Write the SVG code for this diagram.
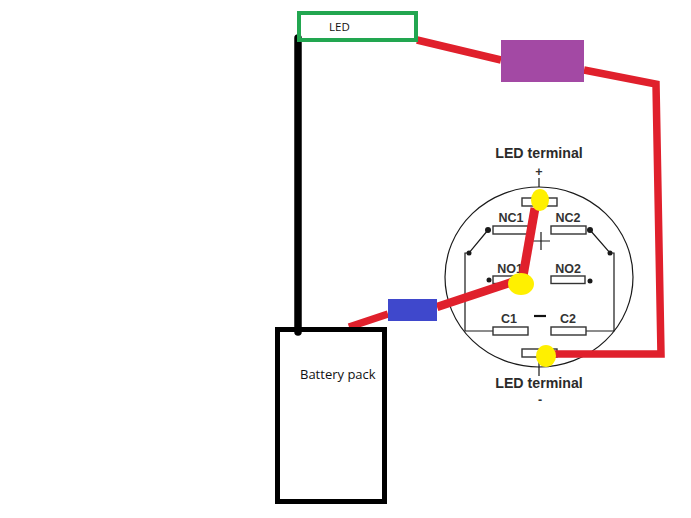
<svg xmlns="http://www.w3.org/2000/svg" width="691" height="518" viewBox="0 0 691 518">
<style>
.t{font-family:"Open Sans","Noto Sans",sans-serif;font-size:11.5px;fill:#111}
.s{font-family:"Liberation Sans",Arial,sans-serif;font-size:14.2px;font-weight:bold;fill:#2b2b2b;text-anchor:middle}
.l{font-family:"Liberation Sans",Arial,sans-serif;font-size:12.5px;font-weight:bold;fill:#333;text-anchor:middle}
.thin{fill:none;stroke:#1a1a1a;stroke-width:1.2}
.box{fill:#fff;stroke:#333;stroke-width:1.4}
.red{fill:none;stroke:#e0202c;stroke-linecap:butt;stroke-linejoin:miter}
.dot{fill:#1a1a1a}
.y{fill:#fff000}
</style>
<rect width="691" height="518" fill="#fff"/>
<g id="switch-diagram">
<ellipse class="thin" cx="539" cy="277" rx="94" ry="90"/>
<path class="thin" d="M539 178V187M539 357V376"/>
<path class="thin" d="M488 230L469 253H465V331H493M590 230L610 253H614V331H586"/>
<circle class="dot" cx="488" cy="230" r="3"/><circle class="dot" cx="590" cy="230" r="3"/>
<circle class="dot" cx="469" cy="253" r="2.5"/><circle class="dot" cx="610" cy="253" r="2.5"/>
<circle class="dot" cx="489" cy="280" r="2.5"/><circle class="dot" cx="590" cy="281" r="2.5"/>
<rect class="box" x="522" y="198" width="35" height="8"/>
<rect class="box" x="493" y="226" width="35" height="8"/>
<rect class="box" x="551" y="226" width="35" height="8"/>
<rect class="box" x="493" y="276" width="35" height="7.500"/>
<rect class="box" x="551" y="276" width="34" height="7.500"/>
<rect class="box" x="493" y="327" width="35" height="8"/>
<rect class="box" x="551" y="327" width="35" height="8"/>
<rect class="box" x="522" y="349" width="35" height="8"/>
<path class="thin" d="M541 232V250M533 241H550" stroke-width="1.500"/>
<path d="M534 316H546" stroke="#111" stroke-width="2.200"/>
<text class="s" x="539" y="158">LED terminal</text>
<text class="l" x="539" y="176">+</text>
<text class="l" x="511" y="222">NC1</text>
<text class="l" x="568" y="222">NC2</text>
<text class="l" x="510" y="273">NO1</text>
<text class="l" x="568" y="273">NO2</text>
<text class="l" x="509" y="323">C1</text>
<text class="l" x="568" y="323">C2</text>
<text class="s" x="539" y="388">LED terminal</text>
<text class="l" x="540" y="404">-</text>
</g>
<g id="connectors">
<path d="M298 38V332" fill="none" stroke="#000" stroke-width="7.500" stroke-linecap="round"/>
<path class="red" stroke-width="7.500" d="M417 40L501 60"/>
<path class="red" stroke-width="7.500" d="M584 70L656 84L661 354H552"/>
<path class="red" stroke-width="9" d="M535 208L522 282"/>
<path class="red" stroke-width="8.500" d="M437 307L515 281"/>
<path class="red" stroke-width="7.500" stroke-linecap="round" d="M349 327L388 314"/>
</g>
<g id="led"><rect x="299" y="13" width="117" height="27" fill="none" stroke="#22a650" stroke-width="4"/><text class="t" x="329" y="31">LED</text></g>
<g id="resistor"><rect x="501" y="40" width="83" height="42" fill="#a349a4"/></g>
<g id="switch-block"><rect x="388" y="299" width="49" height="22" fill="#3f48cc"/></g>
<g id="battery"><rect x="277.500" y="329.500" width="107" height="172" fill="none" stroke="#000" stroke-width="5"/><text class="t" x="300" y="379" style="font-size:13px">Battery pack</text></g>
<g id="terminals">
<ellipse class="y" cx="540" cy="200" rx="9" ry="11"/>
<ellipse class="y" cx="521" cy="284" rx="13" ry="11"/>
<ellipse class="y" cx="546" cy="356" rx="10" ry="11"/>
</g>
</svg>
